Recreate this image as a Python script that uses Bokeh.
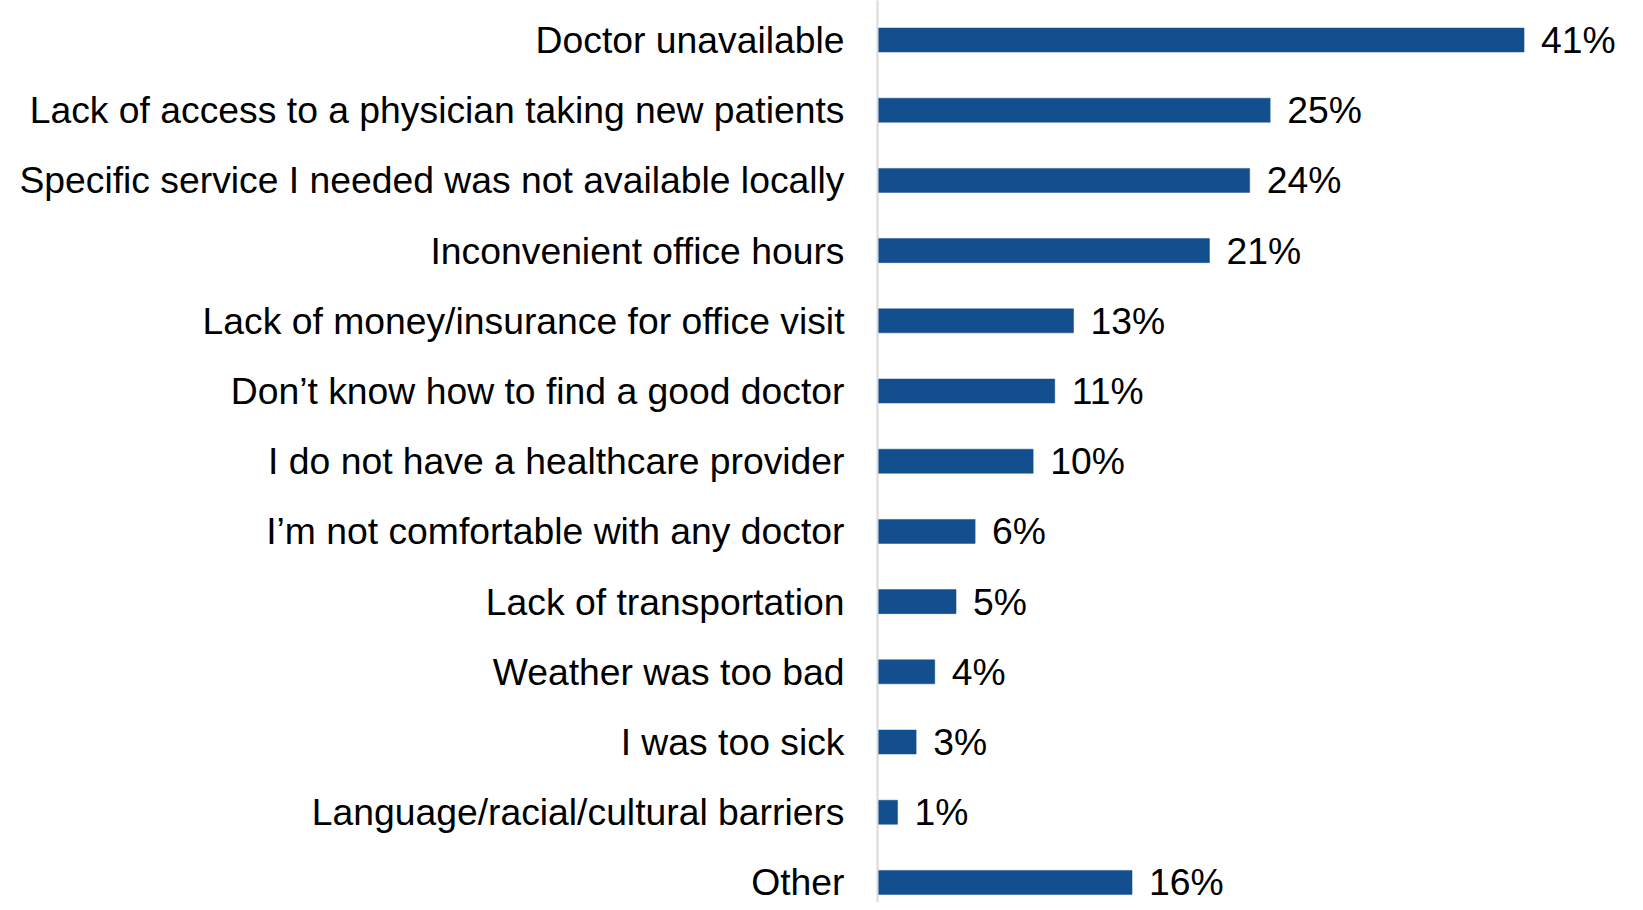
from bokeh.plotting import figure
from bokeh.models import Range1d, FixedTicker, ColumnDataSource
from bokeh.core.properties import value
from bokeh.embed import file_html
from bokeh.resources import INLINE

categories = [
    "Doctor unavailable",
    "Lack of access to a physician taking new patients",
    "Specific service I needed was not available locally",
    "Inconvenient office hours",
    "Lack of money/insurance for office visit",
    "Don\u2019t know how to find a good doctor",
    "I do not have a healthcare provider",
    "I\u2019m not comfortable with any doctor",
    "Lack of transportation",
    "Weather was too bad",
    "I was too sick",
    "Language/racial/cultural barriers",
    "Other",
]
# bar lengths (percent)
values = [41.0, 24.9, 23.6, 21.05, 12.43, 11.24, 9.87, 6.19, 4.98, 3.63, 2.45, 1.27, 16.14]
# printed data labels
value_labels = ["41%", "25%", "24%", "21%", "13%", "11%", "10%", "6%", "5%", "4%", "3%", "1%", "16%"]

FONT = "Liberation Sans"
BAR_COLOR = "#134E8E"

idx = list(range(len(categories)))
src = ColumnDataSource(dict(y=idx, v=values, lab=value_labels))

p = figure(
    width=1627, height=902,
    output_backend="svg", toolbar_location=None,
    x_range=Range1d(0, 47.56),
    y_range=Range1d(12.286, -0.563),
    min_border_left=877, min_border_right=0,
    min_border_top=0, min_border_bottom=0,
)
p.hbar(y="y", left=0, right="v", height=0.342, source=src,
       fill_color=BAR_COLOR, line_color=BAR_COLOR, line_width=0.5)
p.text(x="v", y="y", text="lab", source=src, x_offset=17,
       text_align="left", text_baseline="middle",
       text_font=value(FONT), text_font_size="37.3px", text_color="#000000")

p.xaxis.visible = False
p.grid.visible = False
p.outline_line_color = None
p.background_fill_color = "white"
p.border_fill_color = "white"

ya = p.yaxis[0]
ya.ticker = FixedTicker(ticks=idx)
ya.major_label_overrides = {i: c for i, c in zip(idx, categories)}
ya.major_tick_out = 0
ya.major_tick_in = 0
ya.minor_tick_out = 0
ya.minor_tick_in = 0
ya.major_label_standoff = 33
ya.axis_line_color = "#D9D9D9"
ya.axis_line_width = 2
ya.major_label_text_font = FONT
ya.major_label_text_font_size = "37.3px"
ya.major_label_text_color = "#000000"

open("out.html", "w").write(file_html(p, INLINE))
